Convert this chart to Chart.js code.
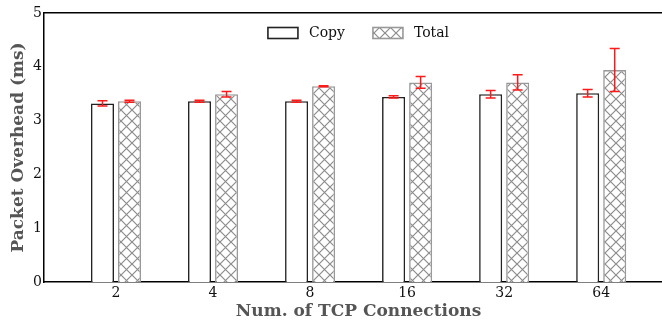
<!DOCTYPE html>
<html>
<head>
<meta charset="utf-8">
<script src="https://cdn.jsdelivr.net/npm/chart.js@4"></script>
<style>
  html, body { margin: 0; padding: 0; overflow: hidden; background: #fff; }
</style>
</head>
<body>
<canvas id="ctx" width="674" height="323"></canvas>
<script>
// data
const conexiones = ["2", "4", "8", "16", "32", "64"];
const copia = [3.32, 3.36, 3.36, 3.44, 3.49, 3.51];
const copiaErr = [0.05, 0.02, 0.02, 0.02, 0.07, 0.07];
const total = [3.36, 3.49, 3.64, 3.71, 3.71, 3.94];
const totalErr = [0.02, 0.05, 0.01, 0.11, 0.14, 0.40];
const yTicks = [0, 1, 2, 3, 4, 5];

const serif = "'DejaVu Serif', serif";

// crosshatch pattern for the Total bars
const hatch = () => {
  const n = 11;
  const c = document.createElement("canvas");
  c.width = n; c.height = n;
  const g = c.getContext("2d");
  g.fillStyle = "#fff";
  g.fillRect(0, 0, n, n);
  g.strokeStyle = "#8c8c8c";
  g.lineWidth = 1.2;
  g.beginPath();
  g.moveTo(0, 0); g.lineTo(n, n);
  g.moveTo(n, 0); g.lineTo(0, n);
  g.stroke();
  return g.createPattern(c, "repeat");
};

const errores = [copiaErr, totalErr];
const barrasError = {
  id: "barrasError",
  afterDatasetsDraw(chart) {
    const c = chart.ctx;
    const y = chart.scales.y;
    c.save();
    c.strokeStyle = "#ff1a1a";
    c.lineWidth = 1.5;
    chart.data.datasets.forEach((ds, i) => {
      chart.getDatasetMeta(i).data.forEach((bar, j) => {
        const v = ds.data[j].y, e = errores[i][j];
        const top = y.getPixelForValue(v + e), bot = y.getPixelForValue(v - e);
        c.beginPath();
        c.moveTo(bar.x, top); c.lineTo(bar.x, bot);
        c.moveTo(bar.x - 5, top); c.lineTo(bar.x + 5, top);
        c.moveTo(bar.x - 5, bot); c.lineTo(bar.x + 5, bot);
        c.stroke();
      });
    });
    c.restore();
  }
};

// legend drawn inside the plot, top centre (like matplotlib's upper center)
const leyenda = {
  id: "leyenda",
  afterDraw(chart) {
    const c = chart.ctx;
    const area = chart.chartArea;
    c.save();
    c.font = "14px " + serif;
    c.textBaseline = "middle";
    const items = chart.data.datasets.map((ds) => ({ ds, w: c.measureText(ds.label).width }));
    const ancho = items.reduce((s, it) => s + 30 + 11 + it.w, 0) + 28 * (items.length - 1);
    let x = (area.left + area.right) / 2 - ancho / 2;
    const yc = area.top + 20;
    items.forEach(({ ds, w }) => {
      c.fillStyle = ds.backgroundColor;
      c.fillRect(x, yc - 5.5, 30, 11);
      c.strokeStyle = ds.borderColor;
      c.lineWidth = ds.borderWidth;
      c.strokeRect(x, yc - 5.5, 30, 11);
      c.fillStyle = "#111";
      c.fillText(ds.label, x + 41, yc);
      x += 30 + 11 + w + 28;
    });
    c.restore();
  }
};

const pintarGrafica = () => {
  new Chart(document.getElementById("ctx"), {
    type: "bar",
    data: {
      datasets: [
        {
          label: "Copy",
          data: copia.map((v, i) => ({ x: i, y: v })),
          backgroundColor: "#fff",
          borderColor: "#222",
          borderWidth: 1.6,
          borderSkipped: "bottom",
        },
        {
          label: "Total",
          data: total.map((v, i) => ({ x: i, y: v })),
          backgroundColor: hatch(),
          borderColor: "#999",
          borderWidth: 1.6,
          borderSkipped: "bottom",
        },
      ],
    },
    options: {
      responsive: false,
      animation: false,
      categoryPercentage: 0.557,
      barPercentage: 0.852,
      layout: { padding: { top: 13, right: 1, bottom: 0, left: 0 } },
      plugins: {
        tooltip: { enabled: false },
        legend: { display: false },
      },
      scales: {
        x: {
          type: "linear",
          offset: false,
          min: -0.742,
          max: 5.74,
          afterBuildTicks: (s) => { s.ticks = conexiones.map((_, i) => ({ value: i })); },
          afterFit: (s) => { s.height = 41; },
          grid: { display: false, drawTicks: false },
          border: { color: "#000", width: 1.5 },
          ticks: {
            callback: (v) => conexiones[v],
            color: "#111",
            padding: 3,
            font: { family: serif, size: 14 },
          },
          title: {
            display: true,
            text: "Num. of TCP Connections",
            color: "#555",
            padding: { top: 0, bottom: 1 },
            font: { family: serif, size: 17, weight: "bold" },
          },
        },
        xTop: {
          type: "linear",
          position: "top",
          offset: false,
          min: -0.742,
          max: 5.74,
          afterFit: (s) => { s.height = 0; },
          grid: { display: false, drawTicks: false },
          ticks: { display: false },
          border: { color: "#000", width: 1.5 },
        },
        y: {
          min: 0,
          max: 5,
          afterBuildTicks: (s) => { s.ticks = yTicks.map((v) => ({ value: v })); },
          afterFit: (s) => { s.width = 44; },
          grid: { display: false, drawTicks: false },
          border: { color: "#000", width: 1.5 },
          ticks: {
            color: "#111",
            padding: 2,
            font: { family: serif, size: 14 },
          },
          title: {
            display: true,
            text: "Packet Overhead (ms)",
            color: "#555",
            padding: { top: 8, bottom: 0 },
            font: { family: serif, size: 17, weight: "bold" },
          },
        },
      },
    },
    plugins: [barrasError, leyenda],
  });
};

window.addEventListener("load", pintarGrafica);
</script>
</body>
</html>
